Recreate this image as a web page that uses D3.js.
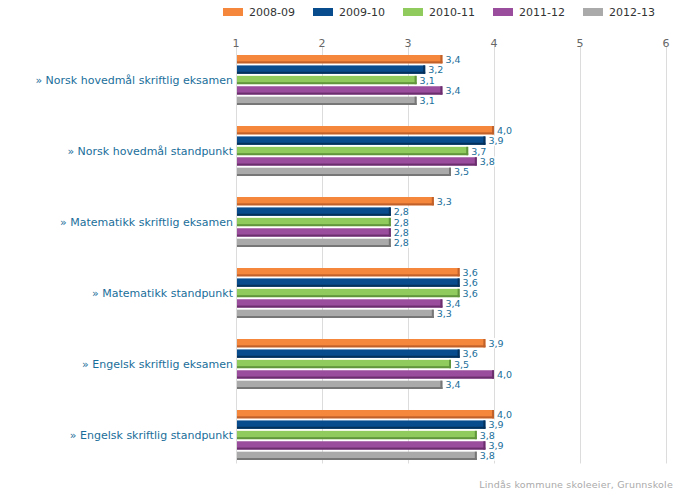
<!DOCTYPE html>
<html>
<head>
<meta charset="utf-8">
<script src="https://cdn.jsdelivr.net/npm/d3@7"></script>
<style>
  body { margin: 0; background: #fff; }
  svg { font-family: "DejaVu Sans", Verdana, sans-serif; }
</style>
</head>
<body>
<svg id="chart" width="695" height="492"></svg>
<script>
const categories = [
  '» Norsk hovedmål skriftlig eksamen',
  '» Norsk hovedmål standpunkt',
  '» Matematikk skriftlig eksamen',
  '» Matematikk standpunkt',
  '» Engelsk skriftlig eksamen',
  '» Engelsk skriftlig standpunkt'
];
const years = ['2008-09', '2009-10', '2010-11', '2011-12', '2012-13'];
const colors = ['#f5873c', '#084c8e', '#8fcb5d', '#9b4d9d', '#aaaaaa'];
const edges = ['#c0602a', '#04305c', '#62963c', '#6c2f6e', '#777777'];
const v0809 = [3.4, 4.0, 3.3, 3.6, 3.9, 4.0];
const v0910 = [3.2, 3.9, 2.8, 3.6, 3.6, 3.9];
const v1011 = [3.1, 3.7, 2.8, 3.6, 3.5, 3.8];
const v1112 = [3.4, 3.8, 2.8, 3.4, 4.0, 3.9];
const v1213 = [3.1, 3.5, 2.8, 3.3, 3.4, 3.8];
const series = [v0809, v0910, v1011, v1112, v1213];
const ticks = [1, 2, 3, 4, 5, 6];

const svg = d3.select('svg#chart');
const margin = { left: 236, right: 29, top: 44.5, bottom: 21.5 };
const width = 695, height = 492;

const x = d3.scaleLinear().domain([1, 6]).range([margin.left, width - margin.right]);
const y = d3.scaleBand().domain(categories).range([margin.top, height - margin.bottom]);
const inner = d3.scaleBand().domain(years).range([-25, 25]).paddingInner(0.2);

// legend
const legend = svg.append('g').attr('class', 'legend');
years.forEach((yr, i) => {
  const g = legend.append('g').attr('transform', `translate(${223 + i * 90},0)`);
  g.append('rect').attr('x', 0).attr('y', 8).attr('width', 20).attr('height', 8).attr('fill', colors[i]);
  g.append('text').attr('x', 26).attr('y', 16).attr('font-size', 11).attr('fill', '#333').text(yr);
});

// grid
const grid = svg.append('g').attr('class', 'grid');
grid.selectAll('line').data(ticks).enter().append('line')
  .attr('x1', d => x(d) + 0.5).attr('x2', d => x(d) + 0.5)
  .attr('y1', 46).attr('y2', height - margin.bottom - 7)
  .attr('stroke', '#dcdcdc').attr('stroke-width', 1);
grid.selectAll('text').data(ticks).enter().append('text')
  .attr('x', d => x(d)).attr('y', 47)
  .attr('text-anchor', 'middle').attr('font-size', 11).attr('fill', '#666')
  .text(d => d);

// category labels
svg.append('g').selectAll('text').data(categories).enter().append('text')
  .attr('x', margin.left - 3)
  .attr('y', d => y(d) + y.bandwidth() / 2 + 4)
  .attr('text-anchor', 'end').attr('font-size', 11).attr('fill', '#1a6e9a')
  .text(d => d);

// bars
const groups = svg.append('g').selectAll('g').data(categories).enter().append('g')
  .attr('transform', d => `translate(0,${y(d) + y.bandwidth() / 2})`);

series.forEach((vals, s) => {
  const yr = years[s];
  const h = inner.bandwidth();
  groups.append('rect')
    .attr('x', x(1) + 1)
    .attr('y', inner(yr))
    .attr('width', (d, i) => x(vals[i]) - x(1) - 1)
    .attr('height', h)
    .attr('fill', colors[s]);
  groups.append('rect')
    .attr('x', x(1) + 1)
    .attr('y', inner(yr) + h - 2)
    .attr('width', (d, i) => x(vals[i]) - x(1) - 1)
    .attr('height', 2)
    .attr('fill', edges[s]);
  groups.append('rect')
    .attr('x', (d, i) => x(vals[i]) - 2)
    .attr('y', inner(yr))
    .attr('width', 2)
    .attr('height', h)
    .attr('fill', edges[s]);
  const lbl = groups.append('g');
  lbl.append('rect')
    .attr('x', (d, i) => x(vals[i]) + 1)
    .attr('y', inner(yr) - 1)
    .attr('width', 17).attr('height', h + 2)
    .attr('fill', '#fff').attr('opacity', 0.9);
  lbl.append('text')
    .attr('x', (d, i) => x(vals[i]) + 3)
    .attr('y', inner(yr) + h / 2 + 3.5)
    .attr('font-size', 9.5).attr('fill', '#1a6e9a')
    .text((d, i) => vals[i].toFixed(1).replace('.', ','));
});

// source
svg.append('text')
  .attr('x', 673).attr('y', 488)
  .attr('text-anchor', 'end').attr('font-size', 9.5).attr('fill', '#aaa')
  .attr('letter-spacing', 0.2)
  .text('Lindås kommune skoleeier, Grunnskole');
</script>
</body>
</html>
